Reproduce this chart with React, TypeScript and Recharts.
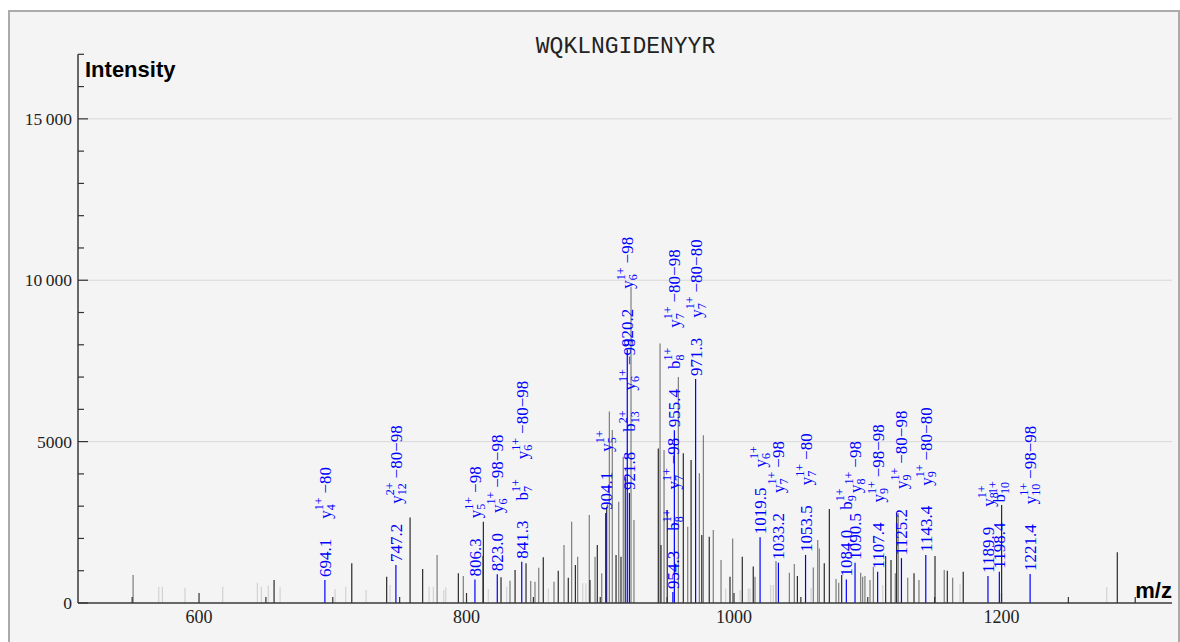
import React from "react";
import { ComposedChart, Scatter, XAxis, YAxis, ErrorBar, CartesianGrid } from "recharts";

// axis setup
const X_DOMAIN: [number, number] = [509.5, 1327.5];
const Y_MAX = 17000;
const xTicks = [550, 600, 650, 700, 750, 800, 850, 900, 950, 1000, 1050, 1100, 1150, 1200, 1250, 1300];
const xMajorTicks = [600, 800, 1000, 1200];
const yTicks = [0, 1000, 2000, 3000, 4000, 5000, 6000, 7000, 8000, 9000, 10000, 11000, 12000, 13000, 14000, 15000, 16000, 17000];
const yMajorTicks = [0, 5000, 10000, 15000];
const yTickLabels = ["0", "5000", "10\u2009000", "15\u2009000"];
const gridValues = [5000, 10000, 15000];

// unannotated peaks, by shade
const darkMz = [656.1, 714.2, 740.3, 757.8, 767.2, 793.9, 812.6, 825.8, 836.3, 844.5, 857.4, 868.6, 876.1, 881.4, 892.3, 897.8, 904.8, 911.8, 915.5, 918.7, 943.4, 945.4, 950.1, 962.1, 967.9, 975.9, 981.5, 997.0, 1006.2, 1014.4, 1047.4, 1067.5, 1071.3, 1080.5, 1113.4, 1117.4, 1121.6, 1134.6, 1150.3, 1159.5, 1171.4, 1200.1, 1286.6];
const darkIntensity = [710, 1230, 815, 2650, 1050, 920, 2520, 800, 1020, 1230, 1420, 1000, 780, 1180, 710, 1800, 2980, 1490, 1430, 3910, 4790, 1800, 2880, 4640, 4430, 2110, 2050, 810, 1430, 1130, 840, 1230, 2910, 870, 1460, 1330, 2800, 920, 1460, 1000, 970, 3040, 1570];

const grayMz = [550.7, 778.0, 797.6, 812.1, 832.5, 848.0, 851.2, 854.0, 865.4, 872.9, 878.6, 883.1, 891.8, 896.1, 901.1, 906.8, 909.0, 913.8, 917.2, 923.0, 925.2, 944.7, 947.7, 958.4, 965.4, 974.1, 977.1, 984.5, 990.3, 999.0, 1015.7, 1031.4, 1041.4, 1045.1, 1059.3, 1062.6, 1063.8, 1076.3, 1078.3, 1094.7, 1096.2, 1097.9, 1101.7, 1104.2, 1120.6, 1122.8, 1129.9, 1138.3, 1157.2, 1163.5];
const grayIntensity = [870, 1490, 840, 1460, 690, 680, 660, 1090, 660, 1800, 2520, 1430, 2730, 1430, 920, 5930, 5360, 3140, 4530, 9800, 2570, 8040, 4740, 7000, 2360, 4020, 5200, 2260, 1330, 2000, 810, 1300, 940, 1210, 1100, 1950, 1690, 740, 630, 940, 810, 840, 710, 1120, 920, 2780, 780, 710, 1020, 780];

const lightMz = [569.9, 572.6, 589.5, 617.7, 643.6, 646.6, 651.8, 660.6, 701.7, 709.7, 724.9, 742.8, 772.0, 775.2, 783.0, 784.5, 816.3, 830.0, 861.2, 886.9, 889.3, 993.8, 1004.5, 1010.7, 1012.0, 1027.4, 1029.4, 1057.6, 1111.2, 1169.0, 1278.7];
const lightIntensity = [500, 500, 470, 500, 630, 500, 540, 490, 430, 500, 400, 560, 500, 500, 400, 490, 430, 500, 450, 610, 610, 450, 400, 450, 450, 560, 560, 475, 560, 590, 490];

// annotated (blue) peaks: [ion, subscript, charge, loss]
const annotatedMz = [694.1, 747.2, 806.3, 823.0, 841.3, 904.1, 920.2, 921.8, 954.3, 955.4, 971.3, 1019.5, 1033.2, 1053.5, 1084.0, 1090.5, 1107.4, 1125.2, 1143.4, 1189.9, 1198.4, 1221.4];
const annotatedIntensity = [710, 1180, 730, 890, 1280, 2790, 7840, 3410, 340, 5350, 6940, 2040, 1250, 1490, 730, 1250, 970, 1390, 1490, 840, 970, 900];
const annotatedIons: string[][][] = [
  [["y", "4", "1+", "−80"]],
  [["y", "12", "2+", "−80−98"]],
  [["y", "5", "1+", "−98"]],
  [["y", "6", "1+", "−98−98"]],
  [["b", "7", "1+", ""], ["y", "6", "1+", "−80−98"]],
  [["y", "5", "1+", ""]],
  [["y", "6", "1+", "−98"]],
  [["b", "13", "2+", ""], ["y", "6", "1+", "−98"]],
  [["b", "8", "1+", ""], ["y", "7", "1+", "−98"]],
  [["b", "8", "1+", ""], ["y", "7", "1+", "−80−98"]],
  [["y", "7", "1+", "−80−80"]],
  [["y", "6", "1+", ""]],
  [["y", "7", "1+", "−98"]],
  [["y", "7", "1+", "−80"]],
  [["b", "9", "1+", ""]],
  [["y", "8", "1+", "−98"]],
  [["y", "9", "1+", "−98−98"]],
  [["y", "9", "1+", "−80−98"]],
  [["y", "9", "1+", "−80−80"]],
  [["y", "8", "1+", ""]],
  [["b", "10", "1+", ""]],
  [["y", "10", "1+", "−98−98"]],
];

const SERIF = '"Liberation Serif", "Times New Roman", serif';
const BLUE = "#0000ff";

const toPeaks = (mz: number[], intensity: number[]) =>
  mz.map((m, i) => ({ mz: m, intensity: intensity[i], err: [intensity[i], 0] }));

const darkData = toPeaks(darkMz, darkIntensity);
const grayData = toPeaks(grayMz, grayIntensity);
const lightData = toPeaks(lightMz, lightIntensity);
const annotatedData = annotatedMz.map((m, i) => ({
  mz: m,
  intensity: annotatedIntensity[i],
  err: [annotatedIntensity[i], 0],
  ions: annotatedIons[i],
}));

let measureCtx: CanvasRenderingContext2D | null = null;
function textWidth(s: string, size: number) {
  if (!measureCtx && typeof document !== "undefined") {
    measureCtx = document.createElement("canvas").getContext("2d");
  }
  if (!measureCtx) return s.length * size * 0.5;
  measureCtx.font = `${size}px "Liberation Serif"`;
  return measureCtx.measureText(s).width;
}

const noMarker = () => <g />;

// rotated labels stacked above a blue peak
function AnnotationLabel(props: any) {
  const { cx, cy, payload } = props;
  if (cx == null || cy == null) return <g />;
  const parts: React.ReactNode[] = [];
  let pos = 3;
  const mzText = payload.mz.toFixed(1);
  parts.push(<text key="mz" x={pos} y={6} fontSize={17}>{mzText}</text>);
  pos += textWidth(mzText, 17) + 20;
  payload.ions.forEach(([ion, sub, sup, loss]: string[], i: number) => {
    parts.push(<text key={`b${i}`} x={pos} y={6} fontSize={17}>{ion}</text>);
    const p2 = pos + textWidth(ion, 17);
    parts.push(<text key={`p${i}`} x={p2} y={-2} fontSize={12}>{sup}</text>);
    parts.push(<text key={`s${i}`} x={p2} y={10} fontSize={12}>{sub}</text>);
    let end = p2 + Math.max(textWidth(sup, 12), textWidth(sub, 12));
    if (loss) {
      parts.push(<text key={`l${i}`} x={end + 4} y={6} fontSize={17}>{loss}</text>);
      end += 4 + textWidth(loss, 17);
    }
    pos = end + 20;
  });
  return (
    <g transform={`translate(${cx},${cy}) rotate(-90)`} fill={BLUE} fontFamily={SERIF}>
      {parts}
    </g>
  );
}

function MzTick(props: any) {
  const { x, y, payload } = props;
  const major = xMajorTicks.includes(payload.value);
  return (
    <g>
      <line x1={x} x2={x} y1={y} y2={y - (major ? 10 : 6)} stroke="#333" strokeWidth={1.2} />
      {major && (
        <text x={x} y={y + 20} textAnchor="middle" fontSize={18} fontFamily={SERIF} fill="#222">
          {payload.value}
        </text>
      )}
    </g>
  );
}

function IntensityTick(props: any) {
  const { x, y, payload } = props;
  const idx = yMajorTicks.indexOf(payload.value);
  return (
    <g>
      <line x1={x} x2={x + (idx >= 0 ? 10 : 6)} y1={y} y2={y} stroke="#333" strokeWidth={1.2} />
      {idx >= 0 && (
        <text x={x - 6} y={y} dy="0.35em" textAnchor="end" fontSize={17.5} fontFamily={SERIF} fill="#222">
          {yTickLabels[idx]}
        </text>
      )}
    </g>
  );
}

export default function App() {
  return (
    <div style={{ position: "fixed", left: 0, top: 0, width: 1180, height: 642, overflow: "hidden", background: "#fff" }}>
      <div
        style={{
          position: "absolute",
          left: 8,
          top: 10,
          width: 1172,
          height: 640,
          boxSizing: "border-box",
          border: "2px solid #ababab",
          background: "#f4f4f4",
        }}
      />
      <div style={{ position: "absolute", left: 0, top: 0 }}>
        <ComposedChart width={1180} height={642} margin={{ top: 54.3, right: 8, bottom: 0, left: 0 }}>
          <CartesianGrid vertical={false} horizontalValues={gridValues} stroke="#d9d9d9" strokeWidth={1} />
          <XAxis
            type="number"
            dataKey="mz"
            domain={X_DOMAIN}
            allowDataOverflow
            ticks={xTicks}
            interval={0}
            tickSize={0}
            tickMargin={0}
            height={39}
            tickLine={false}
            tick={(p: any) => <MzTick {...p} />}
            axisLine={{ stroke: "#3a3a3a", strokeWidth: 1.5 }}
          />
          <YAxis
            type="number"
            dataKey="intensity"
            domain={[0, Y_MAX]}
            allowDataOverflow
            ticks={yTicks}
            interval={0}
            tickSize={0}
            tickMargin={0}
            width={78}
            tickLine={false}
            tick={(p: any) => <IntensityTick {...p} />}
            axisLine={{ stroke: "#3a3a3a", strokeWidth: 1.5 }}
          />
          <Scatter data={lightData} shape={noMarker} isAnimationActive={false}>
            <ErrorBar dataKey="err" direction="y" width={0} stroke="#d2d2d2" strokeWidth={1.2} isAnimationActive={false} />
          </Scatter>
          <Scatter data={grayData} shape={noMarker} isAnimationActive={false}>
            <ErrorBar dataKey="err" direction="y" width={0} stroke="#7d7d7d" strokeWidth={1.2} isAnimationActive={false} />
          </Scatter>
          <Scatter data={darkData} shape={noMarker} isAnimationActive={false}>
            <ErrorBar dataKey="err" direction="y" width={0} stroke="#2b2b2b" strokeWidth={1.2} isAnimationActive={false} />
          </Scatter>
          <Scatter data={annotatedData} shape={(p: any) => <AnnotationLabel {...p} />} isAnimationActive={false}>
            <ErrorBar dataKey="err" direction="y" width={0} stroke={BLUE} strokeWidth={1.2} isAnimationActive={false} />
          </Scatter>
        </ComposedChart>
      </div>
      <svg width={1180} height={642} style={{ position: "absolute", left: 0, top: 0, pointerEvents: "none" }}>
        <text x={625.5} y={53} textAnchor="middle" fontSize={23} fontFamily='"Liberation Mono", monospace' fill="#222">
          WQKLNGIDENYYR
        </text>
        <text x={85} y={77} fontSize={22} fontWeight="bold" fontFamily='"Liberation Sans", Arial, sans-serif' fill="#000">
          Intensity
        </text>
        <text x={1172} y={598} textAnchor="end" fontSize={22} fontWeight="bold" fontFamily='"Liberation Sans", Arial, sans-serif' fill="#000">
          m/z
        </text>
      </svg>
    </div>
  );
}
